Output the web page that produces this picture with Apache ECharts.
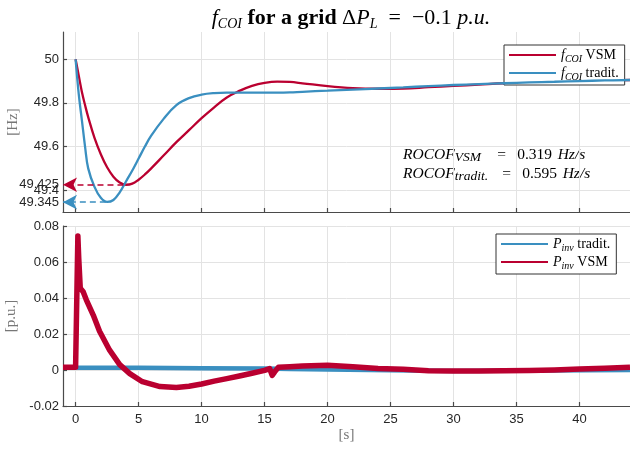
<!DOCTYPE html>
<html>
<head>
<meta charset="utf-8">
<script src="https://cdn.jsdelivr.net/npm/echarts@6/dist/echarts.min.js"></script>
<style>
  html, body { margin: 0; padding: 0; background: #fff; }
  #chart { width: 630px; height: 450px; }
</style>
</head>
<body>
<div id="chart"></div>
<script>
// top panel: f_COI [Hz]
var tTop = [0, 0.25, 0.5, 0.75, 1, 1.5, 2, 2.5, 3, 3.5, 4, 4.5, 5, 5.5, 6, 7, 8, 9, 10, 11, 12, 13, 14, 15, 16, 17, 18, 20, 22, 24, 26, 28, 30, 32, 34, 36, 38, 40, 42, 44];
var fVSM = [50, 49.925, 49.85, 49.79, 49.735, 49.64, 49.565, 49.505, 49.462, 49.435, 49.425, 49.43, 49.448, 49.472, 49.5, 49.56, 49.62, 49.675, 49.73, 49.78, 49.825, 49.855, 49.878, 49.892, 49.898, 49.896, 49.89, 49.877, 49.868, 49.865, 49.866, 49.872, 49.878, 49.884, 49.89, 49.894, 49.897, 49.9, 49.903, 49.905];
var fTrad = [50, 49.84, 49.72, 49.6, 49.5, 49.415, 49.365, 49.346, 49.355, 49.39, 49.44, 49.49, 49.545, 49.6, 49.65, 49.728, 49.79, 49.822, 49.838, 49.845, 49.847, 49.847, 49.847, 49.847, 49.847, 49.848, 49.851, 49.856, 49.861, 49.866, 49.871, 49.877, 49.882, 49.886, 49.89, 49.894, 49.897, 49.9, 49.903, 49.905];

// nadir markers: [time where dashes end, frequency]
var nadirVSM = [3.8, 49.425];
var nadirTrad = [2.4, 49.345];

// bottom panel: P_inv [p.u.]
var tBot = [-1, 0, 0.1, 0.18, 0.25, 0.37, 0.5, 0.6, 0.85, 1.4, 1.9, 2.7, 3.5, 4.3, 5.3, 6.7, 8, 9, 10, 11, 12, 13, 14, 15, 15.4, 15.6, 15.8, 16.1, 17, 18, 20, 22, 24, 26, 28, 30, 32, 34, 36, 38, 40, 42, 44];
var pVSM = [0.0015, 0.0015, 0.002, 0.0745, 0.062, 0.0455, 0.045, 0.0435, 0.039, 0.0305, 0.0215, 0.011, 0.003, -0.002, -0.0065, -0.0092, -0.0097, -0.009, -0.0078, -0.0062, -0.0048, -0.0033, -0.0018, -0.0002, 0.0008, -0.003, -0.001, 0.0015, 0.0018, 0.0022, 0.0026, 0.0018, 0.0008, 0.0004, -0.0004, -0.0006, -0.0005, -0.0004, -0.0003, 0, 0.0005, 0.001, 0.0015];
var tBotTrad = [-1, 0, 0.2, 5, 10, 15, 17, 20, 30, 44];
var pTrad = [0.0015, 0.0015, 0.0012, 0.0012, 0.001, 0.0008, 0.0005, 0.0003, -0.0005, 0];

// axis ticks
var xTicks = [0, 5, 10, 15, 20, 25, 30, 35, 40];
var yTopGrid = [49.4, 49.6, 49.8, 50];
var yTopLabels = [49.345, 49.425, 49.6, 49.8, 50];
var yTopLabelsExtra = [49.4];   // drawn on an overlay axis so it is not dropped as overlapping

var RED = '#BA0030';
var BLUE = '#3A8FC0';
var SERIF = '"Liberation Serif", "DejaVu Serif", serif';
var SANS = '"Liberation Sans", Arial, sans-serif';

function pairs(xs, ys) {
  return xs.map(function (x, i) { return [x, ys[i]]; });
}

var legendText = {
  'fCOI VSM': '{i|f}{s|COI}{r| VSM}',
  'fCOI tradit.': '{i|f}{s|COI}{r| tradit.}',
  'Pinv tradit.': '{i|P}{s|inv}{r| tradit.}',
  'Pinv VSM': '{i|P}{s|inv}{r| VSM}'
};
var legendRich = {
  i: { fontFamily: SERIF, fontStyle: 'italic', fontSize: 14, lineHeight: 18, color: '#000' },
  s: { fontFamily: SERIF, fontStyle: 'italic', fontSize: 10, lineHeight: 10, verticalAlign: 'bottom', color: '#000' },
  r: { fontFamily: SERIF, fontSize: 14, lineHeight: 18, color: '#000' }
};

var axisLineStyle = { color: '#4a4a4a', width: 1.2 };
var gridLine = { show: true, lineStyle: { color: '#e3e3e3', width: 1 } };
var tickLabel = { fontFamily: SANS, fontSize: 13, color: '#262626' };
var axisName = { fontFamily: SERIF, fontSize: 15, color: '#777' };

var chart = echarts.init(document.getElementById('chart'));

function legendBox(left, top, names) {
  return {
    left: left, top: top,
    orient: 'vertical',
    data: names,
    itemWidth: 47, itemHeight: 14, itemGap: 2,
    padding: [3, 6, 3, 4],
    borderColor: '#333', borderWidth: 1, borderRadius: 0,
    backgroundColor: '#fff',
    lineStyle: { width: 2 },
    itemStyle: { opacity: 0 },
    formatter: function (n) { return legendText[n]; },
    textStyle: { rich: legendRich }
  };
}

var option = {
  animation: false,
  backgroundColor: '#fff',
  title: {
    left: 346,
    top: 0,
    textAlign: 'center',
    text: '{fi|f}{sub|COI}{b| for a grid }{m|\u0394}{mi|P}{sub|L}{m|  =  \u22120.1 }{mi|p.u.}',
    textStyle: {
      fontWeight: 'normal',
      rich: {
        fi: { fontFamily: SERIF, fontStyle: 'italic', fontWeight: 'normal', fontSize: 22, lineHeight: 26, color: '#000' },
        mi: { fontFamily: SERIF, fontStyle: 'italic', fontWeight: 'normal', fontSize: 22, lineHeight: 26, color: '#000' },
        m: { fontFamily: SERIF, fontWeight: 'normal', fontSize: 22, lineHeight: 26, color: '#000' },
        b: { fontFamily: SERIF, fontWeight: 'bold', fontSize: 22, lineHeight: 26, color: '#000' },
        sub: { fontFamily: SERIF, fontStyle: 'italic', fontWeight: 'normal', fontSize: 14, lineHeight: 14, verticalAlign: 'bottom', color: '#000' }
      }
    }
  },
  legend: [
    legendBox(504, 45, ['fCOI VSM', 'fCOI tradit.']),
    legendBox(496, 234, ['Pinv tradit.', 'Pinv VSM'])
  ],
  grid: [
    { left: 63, right: 0, top: 32, height: 180, containLabel: false, outerBoundsMode: 'none' },
    { left: 63, right: 0, top: 226, height: 180, containLabel: false, outerBoundsMode: 'none' }
  ],
  xAxis: [{
    gridIndex: 0, type: 'value', min: -1, max: 44,
    axisLine: { onZero: false, lineStyle: axisLineStyle },
    axisTick: { inside: true, length: 4, customValues: xTicks, lineStyle: axisLineStyle },
    axisLabel: { show: false },
    splitLine: gridLine
  }, {
    gridIndex: 1, type: 'value', min: -1, max: 44,
    name: '[s]', nameLocation: 'middle', nameGap: 22, nameMoveOverlap: false,
    nameTextStyle: axisName,
    axisLine: { onZero: false, lineStyle: axisLineStyle },
    axisTick: { inside: true, length: 4, customValues: xTicks, lineStyle: axisLineStyle },
    axisLabel: Object.assign({ customValues: xTicks, margin: 7 }, tickLabel),
    splitLine: gridLine
  }],
  yAxis: [{
    gridIndex: 0, type: 'value', min: 49.3, max: 50.125,
    name: '[Hz]', nameLocation: 'middle', nameGap: 42, nameMoveOverlap: false,
    nameTextStyle: axisName,
    axisLine: { show: true, onZero: false, lineStyle: axisLineStyle },
    axisTick: { show: true, inside: true, length: 4, customValues: yTopGrid, lineStyle: axisLineStyle },
    axisLabel: Object.assign({ customValues: yTopLabels, hideOverlap: false, margin: 4 }, tickLabel),
    splitLine: gridLine
  }, {
    gridIndex: 0, type: 'value', min: 49.3, max: 50.125, position: 'left',
    axisLine: { show: false, onZero: false },
    axisTick: { show: false },
    axisLabel: Object.assign({ customValues: yTopLabelsExtra, margin: 4 }, tickLabel),
    splitLine: { show: false }
  }, {
    gridIndex: 1, type: 'value', min: -0.02, max: 0.08, interval: 0.02,
    name: '[p.u.]', nameLocation: 'middle', nameGap: 44, nameMoveOverlap: false,
    nameTextStyle: axisName,
    axisLine: { show: true, onZero: false, lineStyle: axisLineStyle },
    axisTick: { show: true, inside: true, length: 4, lineStyle: axisLineStyle },
    axisLabel: Object.assign({ margin: 4 }, tickLabel),
    splitLine: gridLine
  }],
  graphic: [{
    type: 'text',
    left: 403, top: 147,
    style: {
      text: '{i|ROCOF}{sv|VSM}{r|=}{n|0.319}{i|Hz/s}\n{i|ROCOF}{st|tradit.}{r|=}{n|0.595}{i|Hz/s}',
      rich: {
        i: { fontFamily: SERIF, fontStyle: 'italic', fontSize: 15.5, lineHeight: 19, fill: '#000' },
        sv: { fontFamily: SERIF, fontStyle: 'italic', fontSize: 13.5, lineHeight: 12, width: 32, verticalAlign: 'bottom', fill: '#000' },
        st: { fontFamily: SERIF, fontStyle: 'italic', fontSize: 13.5, lineHeight: 12, width: 42, verticalAlign: 'bottom', fill: '#000' },
        r: { fontFamily: SERIF, fontSize: 15.5, lineHeight: 19, width: 20, align: 'center', fill: '#000' },
        n: { fontFamily: SERIF, fontSize: 15.5, lineHeight: 19, width: 46, align: 'center', fill: '#000' }
      }
    }
  }],
  series: [{
    name: 'fCOI VSM', type: 'line',
    xAxisIndex: 0, yAxisIndex: 0,
    data: pairs(tTop, fVSM),
    smooth: 0.4, symbol: 'none', z: 3,
    lineStyle: { color: RED, width: 2.3 },
    itemStyle: { color: RED },
    markLine: {
      silent: true, symbol: ['none', 'arrow'], symbolSize: [11, 14],
      label: { show: false },
      lineStyle: { color: RED, type: [6, 4], width: 1.5 },
      data: [[{ coord: [nadirVSM[0], nadirVSM[1]] }, { coord: [-1, nadirVSM[1]] }]]
    }
  }, {
    name: 'fCOI tradit.', type: 'line',
    xAxisIndex: 0, yAxisIndex: 0,
    data: pairs(tTop, fTrad),
    smooth: 0.4, symbol: 'none', z: 4,
    lineStyle: { color: BLUE, width: 2.3 },
    itemStyle: { color: BLUE },
    markLine: {
      silent: true, symbol: ['none', 'arrow'], symbolSize: [11, 14],
      label: { show: false },
      lineStyle: { color: BLUE, type: [6, 4], width: 1.5 },
      data: [[{ coord: [nadirTrad[0], nadirTrad[1]] }, { coord: [-1, nadirTrad[1]] }]]
    }
  }, {
    name: 'Pinv tradit.', type: 'line',
    xAxisIndex: 1, yAxisIndex: 2,
    data: pairs(tBotTrad, pTrad),
    symbol: 'none', z: 3,
    lineStyle: { color: BLUE, width: 4.5 },
    itemStyle: { color: BLUE }
  }, {
    name: 'Pinv VSM', type: 'line',
    xAxisIndex: 1, yAxisIndex: 2,
    data: pairs(tBot, pVSM),
    symbol: 'none', z: 4,
    lineStyle: { color: RED, width: 5.5, join: 'round' },
    itemStyle: { color: RED }
  }]
};

chart.setOption(option);
</script>
</body>
</html>
